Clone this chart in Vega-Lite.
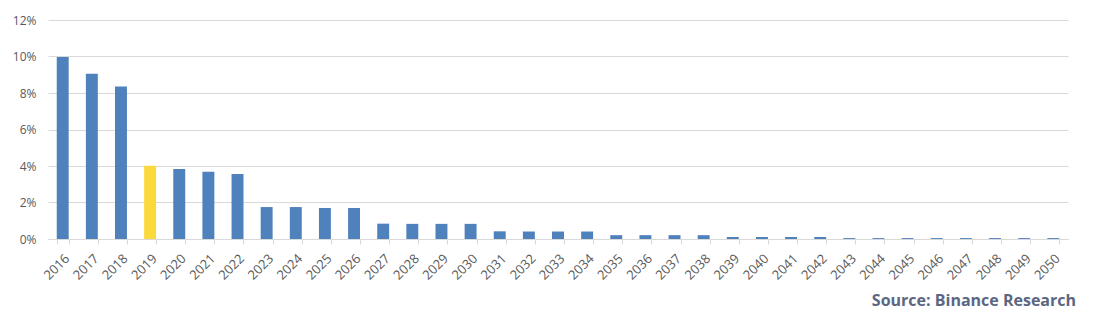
{
  "$schema": "https://vega.github.io/schema/vega-lite/v6.json",
  "autosize": "none",
  "width": 1020,
  "height": 219,
  "padding": {"left": 48, "top": 20, "right": 36, "bottom": 81},
  "background": "white",
  "title": {
    "text": "Source: Binance Research",
    "orient": "bottom",
    "anchor": "end",
    "font": "Open Sans",
    "fontSize": 16,
    "fontWeight": "bold",
    "color": "#5b6782",
    "offset": 11,
    "dx": 8
  },
  "data": {
    "values": [
      {"year": "2016", "rate": 0.0997, "highlight": false},
      {"year": "2017", "rate": 0.0906, "highlight": false},
      {"year": "2018", "rate": 0.0835, "highlight": false},
      {"year": "2019", "rate": 0.0402, "highlight": true},
      {"year": "2020", "rate": 0.0384, "highlight": false},
      {"year": "2021", "rate": 0.0369, "highlight": false},
      {"year": "2022", "rate": 0.0356, "highlight": false},
      {"year": "2023", "rate": 0.0175, "highlight": false},
      {"year": "2024", "rate": 0.0175, "highlight": false},
      {"year": "2025", "rate": 0.0170, "highlight": false},
      {"year": "2026", "rate": 0.0170, "highlight": false},
      {"year": "2027", "rate": 0.0084, "highlight": false},
      {"year": "2028", "rate": 0.0083, "highlight": false},
      {"year": "2029", "rate": 0.0083, "highlight": false},
      {"year": "2030", "rate": 0.0083, "highlight": false},
      {"year": "2031", "rate": 0.0042, "highlight": false},
      {"year": "2032", "rate": 0.0041, "highlight": false},
      {"year": "2033", "rate": 0.0041, "highlight": false},
      {"year": "2034", "rate": 0.0041, "highlight": false},
      {"year": "2035", "rate": 0.0021, "highlight": false},
      {"year": "2036", "rate": 0.0021, "highlight": false},
      {"year": "2037", "rate": 0.0021, "highlight": false},
      {"year": "2038", "rate": 0.0021, "highlight": false},
      {"year": "2039", "rate": 0.0011, "highlight": false},
      {"year": "2040", "rate": 0.0011, "highlight": false},
      {"year": "2041", "rate": 0.0011, "highlight": false},
      {"year": "2042", "rate": 0.0011, "highlight": false},
      {"year": "2043", "rate": 0.0005, "highlight": false},
      {"year": "2044", "rate": 0.0005, "highlight": false},
      {"year": "2045", "rate": 0.0005, "highlight": false},
      {"year": "2046", "rate": 0.0005, "highlight": false},
      {"year": "2047", "rate": 0.0005, "highlight": false},
      {"year": "2048", "rate": 0.0005, "highlight": false},
      {"year": "2049", "rate": 0.0005, "highlight": false},
      {"year": "2050", "rate": 0.0005, "highlight": false}
    ]
  },
  "mark": {"type": "bar"},
  "encoding": {
    "x": {
      "field": "year",
      "type": "ordinal",
      "sort": null,
      "scale": {"paddingInner": 0.59, "paddingOuter": 0.3},
      "axis": {
        "title": null,
        "labelAngle": -45,
        "labelFont": "Open Sans",
        "labelFontSize": 13,
        "labelColor": "#595959",
        "labelPadding": 8,
        "domainColor": "#d9d9d9",
        "domainWidth": 1,
        "tickColor": "#d9d9d9",
        "tickSize": 5,
        "tickBand": "extent",
        "grid": false
      }
    },
    "y": {
      "field": "rate",
      "type": "quantitative",
      "scale": {"domain": [0, 0.12], "nice": false},
      "axis": {
        "title": null,
        "format": ".0%",
        "values": [0, 0.02, 0.04, 0.06, 0.08, 0.1, 0.12],
        "labelFont": "Open Sans",
        "labelFontSize": 12,
        "labelColor": "#595959",
        "labelPadding": 12,
        "domain": false,
        "ticks": false,
        "gridColor": "#d9d9d9",
        "gridWidth": 1
      }
    },
    "color": {
      "field": "highlight",
      "type": "nominal",
      "scale": {"domain": [false, true], "range": ["#4f81bd", "#fcd93a"]},
      "legend": null
    }
  },
  "config": {"view": {"stroke": null}}
}
